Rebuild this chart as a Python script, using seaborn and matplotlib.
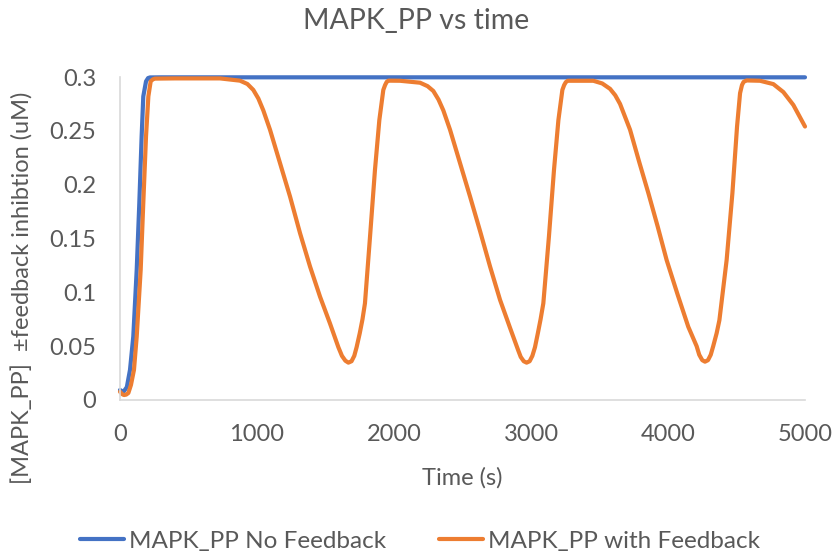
import pandas as pd
import numpy as np
import matplotlib
matplotlib.use("Agg")
import matplotlib.pyplot as plt
import seaborn as sns

# values
time_no_fb = [0, 25, 50, 73, 97, 122, 141, 158, 170, 190, 205, 219, 300, 1000, 2000, 3000, 4000, 5000]
mapk_no_fb = [0.0093, 0.0075, 0.012, 0.028, 0.059, 0.121, 0.183, 0.245, 0.282, 0.296, 0.2990, 0.2996,
              0.2997, 0.2997, 0.2997, 0.2997, 0.2997, 0.2997]

time_fb = [0, 15, 29, 45, 61, 80, 102, 122, 151, 170, 190, 207, 224, 240, 255, 400, 600, 730,
           876, 930, 973, 1010, 1046, 1095, 1168, 1241, 1314, 1387, 1460, 1533, 1594, 1620, 1645, 1667,
           1690, 1710, 1727, 1750, 1770, 1788, 1825, 1861, 1893, 1922, 1935, 1947, 1959, 2044,
           2190, 2245, 2287, 2325, 2360, 2409, 2482, 2555, 2628, 2701, 2774, 2847, 2907, 2925, 2947, 2968,
           2990, 3010, 3029, 3050, 3070, 3090, 3131, 3168, 3200, 3229, 3242, 3254, 3268, 3455,
           3520, 3577, 3615, 3650, 3723, 3790, 3857, 3925, 3990, 4070, 4148, 4209, 4228, 4250, 4270,
           4292, 4312, 4330, 4355, 4375, 4428, 4470, 4504, 4526, 4540, 4552, 4574,
           4672, 4769, 4842, 4915, 5000]
mapk_fb = [0.0077, 0.0055, 0.0046, 0.0050, 0.0065, 0.014, 0.028, 0.059, 0.121, 0.183, 0.245, 0.282, 0.296,
           0.2978, 0.2985, 0.2987, 0.2987, 0.2987,
           0.2966, 0.2935, 0.288, 0.280, 0.269, 0.251, 0.220, 0.189, 0.155, 0.124, 0.096, 0.071, 0.049,
           0.041, 0.0365, 0.0347,
           0.036, 0.041, 0.049, 0.062, 0.075, 0.0898, 0.1517, 0.2136, 0.260, 0.288, 0.2925, 0.2955, 0.2966,
           0.2965,
           0.2947, 0.2915, 0.287, 0.279, 0.269, 0.251, 0.220, 0.189, 0.157, 0.124, 0.093, 0.067, 0.046,
           0.040, 0.036, 0.0347,
           0.036, 0.041, 0.049, 0.062, 0.075, 0.0898, 0.152, 0.214, 0.260, 0.288, 0.2925, 0.2952, 0.2965,
           0.2965,
           0.294, 0.289, 0.283, 0.275, 0.251, 0.221, 0.192, 0.161, 0.130, 0.098, 0.068, 0.050, 0.042, 0.037,
           0.0356,
           0.037, 0.042, 0.050, 0.062, 0.074, 0.130, 0.192, 0.254, 0.285, 0.2925, 0.2955, 0.2968,
           0.2965, 0.2934, 0.286, 0.274, 0.254]

series_names = ["MAPK_PP No Feedback", "MAPK_PP with Feedback"]
x_ticks = [0, 1000, 2000, 3000, 4000, 5000]
y_ticks = [0, 0.05, 0.1, 0.15, 0.2, 0.25, 0.3]
y_tick_labels = ["0", "0.05", "0.1", "0.15", "0.2", "0.25", "0.3"]

df = pd.concat([
    pd.DataFrame({"Time": time_no_fb, "MAPK_PP": mapk_no_fb, "series": series_names[0]}),
    pd.DataFrame({"Time": time_fb, "MAPK_PP": mapk_fb, "series": series_names[1]}),
])

sns.set_style("white")
plt.rcParams["font.family"] = ["Lato", "DejaVu Sans"]
text_color = "#595959"

fig = plt.figure(figsize=(8.36, 5.54), dpi=100)
ax = fig.add_axes([120 / 836, 1 - 400 / 554, 685 / 836, 323 / 554])

sns.lineplot(
    data=df,
    x="Time",
    y="MAPK_PP",
    hue="series",
    palette=["#4472C4", "#ED7D31"],
    linewidth=3,
    sort=False,
    ax=ax,
)
for line in ax.get_lines():
    line.set_clip_on(False)
    line.set_solid_joinstyle("round")
    line.set_solid_capstyle("round")

ax.set_xlim(0, 5000)
ax.set_ylim(0, 0.3)
ax.set_xticks(x_ticks)
ax.set_yticks(y_ticks)
ax.set_yticklabels(y_tick_labels)
ax.tick_params(axis="both", length=0, labelsize=17, colors=text_color, pad=17)

for side in ["top", "right"]:
    ax.spines[side].set_visible(False)
for side in ["left", "bottom"]:
    ax.spines[side].set_color("#D9D9D9")
    ax.spines[side].set_linewidth(1.2)

ax.set_xlabel("Time (s)", fontsize=17, color=text_color, labelpad=16)
ax.set_ylabel("[MAPK_PP]  \u00b1feedback inhibtion (uM)", fontsize=17, color=text_color)
ax.yaxis.set_label_coords(-86 / 685, 0.347)

fig.suptitle("MAPK_PP vs time", fontsize=20.5, color=text_color, x=416 / 836, y=1 - 8 / 554, va="top")

ax.legend_.remove()
handles, labels = ax.get_legend_handles_labels()
fig.legend(
    handles,
    labels,
    loc="center",
    bbox_to_anchor=(420 / 836, 1 - 541 / 554),
    ncol=2,
    frameon=False,
    fontsize=17.5,
    handlelength=1.8,
    handletextpad=0.2,
    columnspacing=2.2,
    labelcolor=text_color,
)

plt.savefig("out.png", dpi=100)
plt.close()
